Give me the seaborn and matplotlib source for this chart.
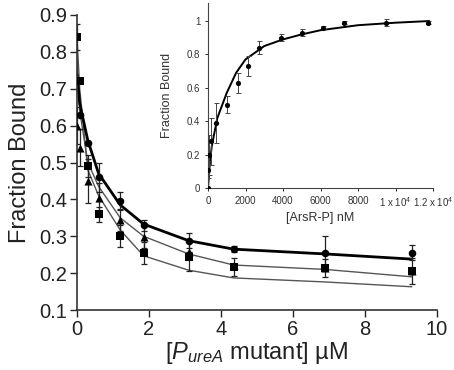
import numpy as np
import pandas as pd
import matplotlib
matplotlib.use("Agg")
import matplotlib.pyplot as plt
import seaborn as sns

# ---------------- main panel data ----------------
conc_uM = [0.0, 0.075, 0.3, 0.6, 1.2, 1.85, 3.1, 4.35, 6.9, 9.3]

circle_y = [0.72, 0.63, 0.553, 0.46, 0.395, 0.33, 0.288, 0.265, 0.255, 0.255]
circle_err = [0.0, 0.0, 0.0, 0.04, 0.025, 0.015, 0.02, 0.008, 0.045, 0.02]

square_y = [0.84, 0.72, 0.49, 0.36, 0.30, 0.255, 0.245, 0.217, 0.214, 0.206]
square_err = [0.035, 0.0, 0.03, 0.02, 0.03, 0.03, 0.04, 0.025, 0.025, 0.035]

triangle_y = [0.60, 0.54, 0.45, 0.405, 0.344, 0.298, 0.257, 0.222, 0.214, 0.206]
triangle_err = [0.05, 0.05, 0.06, 0.04, 0.03, 0.03, 0.0, 0.0, 0.0, 0.0]

fit_circle = [0.74, 0.66, 0.56, 0.47, 0.385, 0.333, 0.288, 0.265, 0.252, 0.238]
fit_triangle = [0.78, 0.64, 0.50, 0.435, 0.35, 0.30, 0.252, 0.222, 0.21, 0.19]
fit_square = [0.84, 0.70, 0.48, 0.41, 0.317, 0.247, 0.208, 0.187, 0.176, 0.163]

main_xticks = [0, 2, 4, 6, 8, 10]
main_yticks = [0.1, 0.2, 0.3, 0.4, 0.5, 0.6, 0.7, 0.8, 0.9]

# ---------------- inset data ----------------
arsr_nM = [0, 20, 60, 160, 430, 1020, 1600, 2130, 2720, 3900, 5000, 6130, 7250, 9500, 11730]
inset_y = [0.0, 0.11, 0.20, 0.28, 0.39, 0.50, 0.63, 0.73, 0.84, 0.90, 0.93, 0.96, 0.99, 0.99, 0.99]
inset_err = [0.0, 0.05, 0.12, 0.14, 0.12, 0.05, 0.06, 0.06, 0.04, 0.02, 0.02, 0.01, 0.01, 0.02, 0.01]

inset_fit_x = [0, 100, 200, 500, 1000, 1500, 2000, 3000, 4000, 5000, 6000, 8000, 10000, 11800]
inset_fit_y = [0.0, 0.15, 0.25, 0.42, 0.57, 0.69, 0.77, 0.85, 0.89, 0.92, 0.945, 0.975, 0.99, 1.0]

inset_xticks = [0, 2000, 4000, 6000, 8000, 10000, 12000]
inset_xticklabels = ["0", "2000", "4000", "6000", "8000", r"1 x 10$^4$", r"1.2 x 10$^4$"]
inset_yticks = [0, 0.2, 0.4, 0.6, 0.8, 1.0]
inset_yticklabels = ["0", "0.2", "0.4", "0.6", "0.8", "1"]

sns.set_style("ticks")
plt.rcParams["font.family"] = ["Liberation Sans", "DejaVu Sans"]
plt.rcParams["mathtext.fontset"] = "custom"
plt.rcParams["mathtext.rm"] = "Liberation Sans"
plt.rcParams["mathtext.it"] = "Liberation Sans:italic"

fig = plt.figure(figsize=(4.54, 3.70), dpi=100)
ax = fig.add_axes([77 / 454, 60 / 370, 360 / 454, 295 / 370])

main_df = pd.DataFrame({
    "x": conc_uM,
    "circle": circle_y, "square": square_y, "triangle": triangle_y,
    "fc": fit_circle, "ft": fit_triangle, "fs": fit_square,
})

gray = "#555555"
sns.lineplot(data=main_df, x="x", y="fs", ax=ax, color=gray, lw=1.0)
sns.lineplot(data=main_df, x="x", y="ft", ax=ax, color=gray, lw=1.0)
sns.lineplot(data=main_df, x="x", y="fc", ax=ax, color="black", lw=2.0)

for yv, ev in [(square_y, square_err), (triangle_y, triangle_err), (circle_y, circle_err)]:
    ax.errorbar(conc_uM, yv, yerr=ev, fmt="none", ecolor="#222222",
                elinewidth=0.9, capsize=2.5, capthick=0.9)

sns.scatterplot(data=main_df, x="x", y="square", ax=ax, marker="s", s=36,
                color="black", edgecolor="black", linewidth=0, zorder=5)
sns.scatterplot(data=main_df, x="x", y="triangle", ax=ax, marker="^", s=34,
                color="black", edgecolor="black", linewidth=0, zorder=5)
sns.scatterplot(data=main_df, x="x", y="circle", ax=ax, marker="o", s=30,
                color="black", edgecolor="black", linewidth=0, zorder=6)

ax.set_xlim(0, 10)
ax.set_ylim(0.1, 0.9)
ax.set_xticks(main_xticks)
ax.set_yticks(main_yticks)
ax.set_yticklabels([f"{v:.1f}" for v in main_yticks])
ax.tick_params(axis="both", labelsize=14.5, length=5, width=1, direction="out", pad=2,
               labelcolor="#222222")
ax.set_xlabel("[$P_{ureA}$ mutant] \u00b5M", fontsize=17, labelpad=1, color="#222222")
ax.set_ylabel("Fraction Bound", fontsize=17, labelpad=6, color="#222222")
sns.despine(ax=ax)
for sp in ["left", "bottom"]:
    ax.spines[sp].set_linewidth(1.2)
    ax.spines[sp].set_color("#333333")

# ---------------- inset ----------------
ins = fig.add_axes([208 / 454, 182 / 370, 225 / 454, 185 / 370])
ins.patch.set_alpha(0)
inset_df = pd.DataFrame({"x": arsr_nM, "y": inset_y})
fit_df = pd.DataFrame({"x": inset_fit_x, "y": inset_fit_y})
sns.lineplot(data=fit_df, x="x", y="y", ax=ins, color="black", lw=1.4)
ins.errorbar(arsr_nM, inset_y, yerr=inset_err, fmt="none", ecolor="#444444",
             elinewidth=0.7, capsize=1.8, capthick=0.7)
sns.scatterplot(data=inset_df, x="x", y="y", ax=ins, marker="o", s=14,
                color="black", edgecolor="black", linewidth=0, zorder=5)
ins.set_xlim(0, 12000)
ins.set_ylim(0, 1.108)
ins.set_xticks(inset_xticks)
ins.set_xticklabels(inset_xticklabels)
ins.set_yticks(inset_yticks)
ins.set_yticklabels(inset_yticklabels)
ins.tick_params(axis="both", labelsize=7, length=2.5, width=0.7, direction="out", pad=3,
                labelcolor="#333333")
ins.set_xlabel("[ArsR-P] nM", fontsize=9, labelpad=2, color="#333333")
ins.set_ylabel("Fraction Bound", fontsize=9, labelpad=10, color="#333333")
sns.despine(ax=ins)
for sp in ["left", "bottom"]:
    ins.spines[sp].set_linewidth(0.8)
    ins.spines[sp].set_color("#444444")

fig.savefig("out.png", dpi=100)
